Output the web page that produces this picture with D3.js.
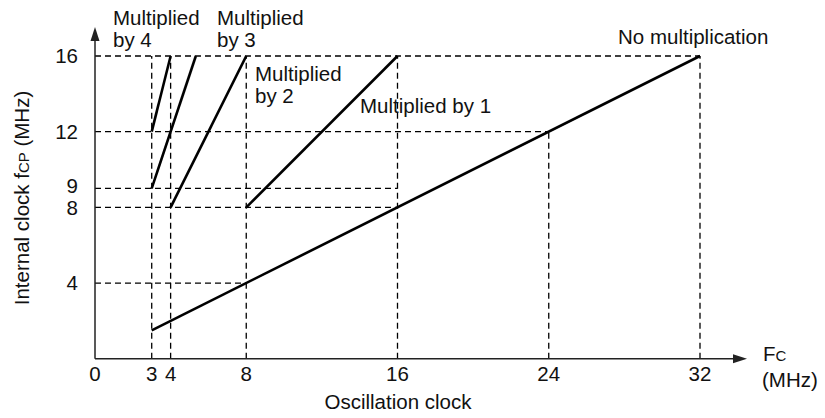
<!DOCTYPE html>
<html>
<head>
<meta charset="utf-8">
<script src="https://cdn.jsdelivr.net/npm/d3@7"></script>
<style>
  html, body { margin: 0; padding: 0; background: #fff; }
  svg { display: block; font-family: "Liberation Sans", Arial, Helvetica, sans-serif; }
</style>
</head>
<body>
<svg id="chart" width="825" height="418"></svg>
<script>
// Oscillation clock Fc (MHz) vs internal clock fCP (MHz) per multiplication mode
const modes      = ["No multiplication", "Multiplied by 1", "Multiplied by 2", "Multiplied by 3", "Multiplied by 4"];
const startFc    = [3, 8, 4, 3, 3];
const startFcp   = [1.5, 8, 8, 9, 12];
const endFc      = [32, 16, 8, 16 / 3, 4];
const endFcp     = [16, 16, 16, 16, 16];

// Axis tick labels
const xTicks = [0, 3, 4, 8, 16, 24, 32];
const yTicks = [4, 8, 9, 12, 16];

// Dashed reference lines: horizontal (fCP level, up to Fc) and vertical (Fc value, up to fCP)
const hGuideFcp = [16, 12, 9, 8, 4];
const hGuideToFc = [32, 24, 16, 16, 8];
const vGuideFc = [3, 4, 8, 16, 24, 32];
const vGuideToFcp = [16, 16, 16, 16, 12, 16];

const svg = d3.select("#chart");
const FONT = 20.5;
const SUB = 15;
const axisColor = "#222";

const x = d3.scaleLinear().domain([0, 32]).range([95, 700]);
const y = d3.scaleLinear().domain([0, 16]).range([358.7, 56]);

// dashed guides
const guides = svg.append("g")
  .attr("stroke", "#000").attr("stroke-width", 1.3)
  .attr("stroke-dasharray", "6,4").attr("fill", "none");
hGuideFcp.forEach((v, i) => {
  guides.append("line")
    .attr("x1", x(0)).attr("x2", x(hGuideToFc[i]))
    .attr("y1", y(v)).attr("y2", y(v));
});
vGuideFc.forEach((v, i) => {
  guides.append("line")
    .attr("x1", x(v)).attr("x2", x(v))
    .attr("y1", y(0)).attr("y2", y(vGuideToFcp[i]));
});

// axes with arrow heads
const axes = svg.append("g").attr("stroke", axisColor).attr("stroke-width", 1.5);
axes.append("line").attr("x1", x(0)).attr("x2", x(0)).attr("y1", y(0)).attr("y2", 36);
axes.append("line").attr("x1", x(0)).attr("x2", 738).attr("y1", y(0)).attr("y2", y(0));
svg.append("path")
  .attr("d", `M${x(0)},27 L${x(0) - 4.5},41 L${x(0) + 4.5},41 Z`)
  .attr("fill", axisColor);
svg.append("path")
  .attr("d", `M747,${y(0)} L733,${y(0) - 4.5} L733,${y(0) + 4.5} Z`)
  .attr("fill", axisColor);

// tick labels (the 9 sits a little higher so it clears the 8 just below it)
svg.append("g").selectAll("text").data(xTicks).join("text")
  .attr("x", d => x(d)).attr("y", 381)
  .attr("text-anchor", "middle").attr("font-size", FONT).attr("fill", "#111")
  .text(d => d);
svg.append("g").selectAll("text").data(yTicks).join("text")
  .attr("x", 78).attr("y", d => y(d) + (d === 9 ? -3 : 0))
  .attr("dy", "0.35em")
  .attr("text-anchor", "end").attr("font-size", FONT).attr("fill", "#111")
  .text(d => d);

// characteristic lines
svg.append("g").selectAll("line").data(modes).join("line")
  .attr("x1", (d, i) => x(startFc[i])).attr("y1", (d, i) => y(startFcp[i]))
  .attr("x2", (d, i) => x(endFc[i])).attr("y2", (d, i) => y(endFcp[i]))
  .attr("stroke", "#000").attr("stroke-width", 2.6).attr("stroke-linecap", "butt");

// line annotations
const annot = [
  { lines: ["Multiplied", "by 4"], px: 113, py: 25 },
  { lines: ["Multiplied", "by 3"], px: 217, py: 25 },
  { lines: ["Multiplied", "by 2"], px: 255, py: 81 },
  { lines: ["Multiplied by 1"], px: 360, py: 113 },
  { lines: ["No multiplication"], px: 618, py: 44 }
];
annot.forEach(a => {
  const t = svg.append("text").attr("font-size", FONT).attr("fill", "#111");
  a.lines.forEach((s, k) => {
    t.append("tspan").attr("x", a.px).attr("y", a.py + k * 22).text(s);
  });
});

// axis titles
svg.append("text")
  .attr("x", 398).attr("y", 409)
  .attr("text-anchor", "middle").attr("font-size", FONT).attr("fill", "#111")
  .text("Oscillation clock");

const fc = svg.append("text").attr("x", 763).attr("y", 361)
  .attr("font-size", FONT).attr("fill", "#111");
fc.append("tspan").text("F");
fc.append("tspan").attr("font-size", SUB).text("C");
svg.append("text").attr("x", 762).attr("y", 387)
  .attr("font-size", FONT).attr("fill", "#111").text("(MHz)");

const yl = svg.append("text")
  .attr("transform", "translate(29,198) rotate(-90)")
  .attr("text-anchor", "middle").attr("font-size", FONT).attr("fill", "#111");
yl.append("tspan").text("Internal clock f");
yl.append("tspan").attr("font-size", SUB).text("CP");
yl.append("tspan").text(" (MHz)");
</script>
</body>
</html>
